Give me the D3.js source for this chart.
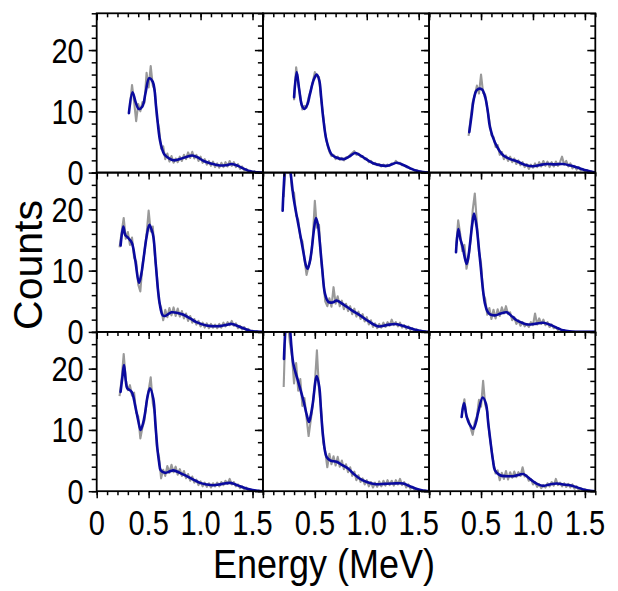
<!DOCTYPE html>
<html><head><meta charset="utf-8">
<script src="https://cdn.jsdelivr.net/npm/d3@7"></script>
<style>html,body{margin:0;padding:0;background:#fff;} svg{display:block;}</style>
</head><body>
<svg id="chart" width="618" height="591"></svg>
<script>
// Energy bins (MeV) shared by all measured spectra
const energyBins = [0.18,0.20,
 0.22,0.24,0.26,0.28,0.30, 0.32,0.34,0.36,0.38,0.40, 0.42,0.44,0.46,0.48,0.50,
 0.52,0.54,0.56,0.58,0.60, 0.62,0.64,0.66,0.68,0.70, 0.72,0.74,0.76,0.78,0.80,
 0.82,0.84,0.86,0.88,0.90, 0.92,0.94,0.96,0.98,1.00, 1.02,1.04,1.06,1.08,1.10,
 1.12,1.14,1.16,1.18,1.20, 1.22,1.24,1.26,1.28,1.30, 1.32,1.34,1.36,1.38,1.40,
 1.42,1.44,1.46,1.48,1.50, 1.52,1.54,1.56,1.58,1.60];

// Measured counts (grey), one array per panel, aligned with energyBins
const counts1 = [null,null,
 null,null,null,null,null, 10.8,14.3,11.6,8.4,11.2, 10.0,11.5,11.4,16.3,13.9,
 17.4,14.2,13.4,8.8,7.3, 3.9,4.3,2.2,3.1,1.8, 2.7,1.6,2.3,1.7,2.6,
 1.9,2.9,2.2,3.3,2.4, 3.4,2.3,2.9,1.9,2.6, 1.6,2.2,1.3,1.9,1.1,
 1.8,0.9,1.5,0.8,1.6, 0.9,1.7,1.0,1.9,1.1, 1.7,0.9,1.4,0.6,1.0,
 0.4,0.6,0.1,0.3,0.0, 0.2,0.0,0.1,0.0,0.0];
const counts2 = [null,null,
 null,null,null,null,11.8, 17.2,14.6,12.4,10.3,10.9, 10.6,12.3,13.4,14.8,16.4,
 15.7,15.6,12.0,9.4,6.3, 4.6,3.4,2.7,2.9,2.2, 2.6,2.1,2.4,2.0,2.5,
 2.5,2.9,3.2,3.5,2.9, 3.1,2.6,2.7,2.2,2.3, 1.7,1.9,1.4,1.6,1.2,
 1.4,1.0,1.3,1.0,1.3, 1.1,1.5,1.4,1.9,1.5, 1.6,1.2,1.2,0.9,0.9,
 0.6,0.6,0.3,0.4,0.1, 0.2,0.0,0.1,0.0,0.0];
const counts3 = [null,null,
 null,null,null,null,null, null,null,null,6.0,8.9, 11.5,12.6,14.2,12.9,16.0,
 13.0,12.7,10.4,8.5,6.1, 5.8,4.2,4.5,2.9,3.4, 2.2,2.8,1.9,2.6,1.7,
 2.3,1.4,2.0,1.2,1.7, 0.9,1.4,0.6,1.3,0.8, 1.5,0.9,1.7,1.0,1.9,
 1.1,1.8,0.9,1.7,1.0, 1.8,1.1,1.7,2.6,1.3, 1.9,1.0,1.5,0.7,1.1,
 0.5,0.9,0.4,0.6,0.2, 0.4,0.0,0.2,0.0,0.0];
const counts4 = [null,null,
 13.8,16.3,18.6,15.2,16.3, 14.2,15.4,12.1,11.5,7.7, 6.6,10.8,13.1,15.9,19.8,
 16.4,17.2,12.5,9.1,4.9, 4.0,1.9,3.6,2.4,3.9, 2.7,4.0,2.6,3.8,2.5,
 3.4,2.2,3.0,1.8,2.6, 1.5,2.1,1.2,1.8,0.9, 1.5,0.7,1.4,0.6,1.3,
 0.7,1.2,0.6,1.3,0.7, 1.5,0.9,1.6,1.1,1.8, 1.0,1.4,0.6,1.0,0.4,
 0.8,0.2,0.5,0.0,0.2, 0.0,0.1,0.0,0.0,0.0];
const counts5 = [null,22.0,
 27.5,29.0,27.0,23.2,22.7, 19.0,18.3,15.4,14.8,11.9, 9.3,10.7,12.0,15.2,21.4,
 17.0,17.5,11.8,8.6,5.0, 4.2,5.5,4.1,7.3,4.6, 5.8,4.2,5.1,3.7,4.6,
 3.4,4.2,2.9,3.8,2.5, 3.3,2.1,2.9,1.7,2.4, 1.2,1.9,0.8,1.4,0.6,
 1.3,0.7,1.5,0.8,1.6, 1.0,2.0,1.1,1.6,0.9, 1.5,0.7,1.1,0.5,0.9,
 0.3,0.6,0.1,0.4,0.0, 0.2,0.0,0.1,0.0,0.0];
const counts6 = [null,null,
 null,null,14.0,18.2,15.9, 13.2,14.2,10.3,12.0,15.1, 19.9,22.6,17.8,13.1,11.2,
 6.3,5.4,2.8,3.9,2.1, 3.6,2.2,3.7,2.6,4.0, 3.0,4.2,2.9,3.2,1.9,
 2.4,1.3,1.9,1.0,1.6, 0.9,1.3,0.8,1.6,1.1, 3.0,1.2,2.2,1.3,2.0,
 1.1,1.6,0.8,1.2,0.6, 0.8,0.3,0.5,0.1,0.3, 0.0,0.1,0.0,0.0,0.0,
 0.0,0.0,0.0,0.0,0.0, 0.0,0.0,0.0,0.0,0.0];
const counts7 = [null,null,
 15.5,18.3,22.4,18.2,16.5, 17.3,15.6,16.1,12.8,12.2, 8.6,10.4,11.6,14.5,16.5,
 18.6,14.4,12.6,7.0,5.6, 2.1,3.5,2.5,4.1,3.0, 4.3,3.1,4.0,2.7,3.6,
 2.5,3.3,2.1,2.8,1.7, 2.4,1.4,1.9,1.0,1.6, 0.8,1.4,0.7,1.3,0.6,
 1.3,0.8,1.4,0.8,1.5, 1.0,1.7,1.2,2.0,1.1, 1.5,0.8,1.1,0.5,0.8,
 0.3,0.6,0.1,0.3,0.0, 0.2,0.0,0.1,0.0,0.0];
const counts8 = [null,17.0,
 28.5,27.5,24.2,22.0,17.6, 20.9,16.4,18.3,13.9,15.2, 12.0,9.0,11.5,14.0,17.5,
 23.0,16.6,13.6,8.0,6.5, 3.9,6.1,4.4,5.7,4.2, 5.6,4.0,5.0,3.6,4.4,
 3.1,3.9,2.5,3.2,1.8, 2.6,1.5,2.1,1.1,1.8, 0.8,1.5,0.6,1.4,0.7,
 1.6,0.8,1.7,0.9,1.8, 1.0,1.7,0.9,1.8,1.1, 2.0,1.0,1.5,0.6,1.1,
 0.4,0.7,0.2,0.4,0.0, 0.2,0.0,0.1,0.0,0.0];
const counts9 = [null,null,
 null,null,null,null,null, 13.2,15.0,12.1,11.6,10.3, 9.2,11.3,12.2,14.9,13.8,
 18.0,14.1,13.0,9.4,6.9, 4.6,2.9,3.4,1.8,3.0, 2.0,3.3,1.9,3.1,2.2,
 3.2,2.3,3.1,2.5,3.9, 2.4,2.6,1.7,2.0,1.1, 1.5,0.7,1.1,0.5,1.0,
 0.6,1.3,0.8,1.5,0.9, 2.0,1.0,1.4,0.8,1.3, 0.7,1.2,0.6,1.1,0.4,
 0.8,0.2,0.5,0.0,0.3, 0.0,0.1,0.0,0.0,0.0];

// Fitted curves (blue): [energy MeV, counts]
const fit1 = [[0.31,9.7],[0.345,13.1],[0.375,11.5],[0.405,10.4],[0.44,10.8],[0.47,13.0],[0.505,15.4],[0.54,14.8],[0.575,10.2],[0.61,5.2],[0.65,3.0],[0.70,2.3],[0.75,2.0],[0.80,2.2],[0.87,2.6],[0.92,2.8],[0.97,2.5],[1.03,1.9],[1.10,1.5],[1.17,1.2],[1.24,1.2],[1.30,1.4],[1.36,1.1],[1.42,0.6],[1.48,0.2],[1.55,0.05],[1.60,0.0]];
const fit2 = [[0.30,12.3],[0.325,16.4],[0.35,13.5],[0.375,11.0],[0.40,10.4],[0.43,11.2],[0.453,12.8],[0.49,15.2],[0.518,16.0],[0.543,15.0],[0.56,12.5],[0.58,9.0],[0.613,5.2],[0.66,3.0],[0.70,2.5],[0.774,2.2],[0.83,2.6],[0.886,3.2],[0.93,2.9],[0.966,2.5],[1.02,1.9],[1.08,1.4],[1.19,1.1],[1.288,1.6],[1.33,1.4],[1.384,1.0],[1.43,0.6],[1.48,0.3],[1.54,0.08],[1.60,0.0]];
const fit3 = [[0.387,6.6],[0.41,9.5],[0.427,11.7],[0.46,13.5],[0.508,13.6],[0.54,12.3],[0.565,10.0],[0.586,7.4],[0.634,4.9],[0.68,3.5],[0.715,2.8],[0.78,2.2],[0.843,1.85],[0.92,1.3],[1.0,1.03],[1.07,1.25],[1.13,1.4],[1.21,1.35],[1.29,1.4],[1.36,1.15],[1.42,0.86],[1.52,0.33],[1.60,0.0]];
const fit4 = [[0.23,14.1],[0.256,17.2],[0.275,15.8],[0.294,15.5],[0.337,14.6],[0.37,11.8],[0.407,8.0],[0.43,9.5],[0.449,11.7],[0.48,15.5],[0.507,17.5],[0.53,16.6],[0.546,15.5],[0.57,10.8],[0.594,6.2],[0.615,3.8],[0.635,2.7],[0.66,2.6],[0.72,3.2],[0.78,3.1],[0.83,2.85],[0.90,2.2],[0.96,1.6],[1.057,1.06],[1.187,0.95],[1.25,1.15],[1.30,1.3],[1.38,0.8],[1.475,0.2],[1.54,0.05],[1.60,0.0]];
const fit5 = [[0.19,19.8],[0.20,23.5],[0.213,26.5],[0.235,28.0],[0.255,27.2],[0.268,25.8],[0.294,22.0],[0.325,19.0],[0.358,16.0],[0.39,13.0],[0.415,10.8],[0.43,10.3],[0.45,11.3],[0.469,13.3],[0.49,16.5],[0.511,18.6],[0.53,17.5],[0.543,15.5],[0.57,10.5],[0.598,6.2],[0.63,4.9],[0.67,4.8],[0.71,5.1],[0.774,4.5],[0.85,3.6],[0.935,2.7],[1.02,1.7],[1.11,0.9],[1.19,1.1],[1.27,1.3],[1.33,1.1],[1.384,0.8],[1.45,0.45],[1.51,0.2],[1.56,0.05],[1.60,0.0]];
const fit6 = [[0.259,13.0],[0.281,16.8],[0.30,15.2],[0.324,13.8],[0.345,12.0],[0.362,11.1],[0.38,12.5],[0.394,14.4],[0.415,17.5],[0.433,19.3],[0.458,17.1],[0.477,14.0],[0.497,10.6],[0.518,7.0],[0.538,4.6],[0.56,3.4],[0.586,2.85],[0.634,2.7],[0.69,3.0],[0.747,3.2],[0.80,2.5],[0.843,1.9],[0.90,1.45],[0.955,1.2],[1.03,1.35],[1.10,1.5],[1.18,1.06],[1.24,0.6],[1.29,0.25],[1.35,0.08],[1.42,0.02],[1.60,0.0]];
const fit7 = [[0.23,16.2],[0.25,19.0],[0.263,20.6],[0.28,18.0],[0.294,16.8],[0.337,16.2],[0.37,14.0],[0.40,11.5],[0.423,10.0],[0.445,11.0],[0.465,12.7],[0.49,15.5],[0.513,16.8],[0.545,15.1],[0.565,11.0],[0.583,7.2],[0.60,4.8],[0.616,3.4],[0.657,3.0],[0.70,3.2],[0.737,3.4],[0.80,3.0],[0.866,2.45],[0.93,1.9],[0.994,1.36],[1.06,1.1],[1.12,0.98],[1.20,1.15],[1.28,1.36],[1.33,1.15],[1.38,0.8],[1.44,0.45],[1.50,0.2],[1.55,0.06],[1.60,0.0]];
const fit8 = [[0.203,21.6],[0.21,24.5],[0.22,27.0],[0.24,28.2],[0.26,26.5],[0.275,23.5],[0.293,20.8],[0.341,17.8],[0.39,14.8],[0.42,12.6],[0.444,11.3],[0.46,12.3],[0.48,14.3],[0.518,18.8],[0.543,17.0],[0.56,13.0],[0.58,8.9],[0.613,5.6],[0.65,5.0],[0.709,4.8],[0.76,4.3],[0.82,3.7],[0.87,2.9],[0.93,2.07],[1.0,1.5],[1.09,1.14],[1.17,1.2],[1.25,1.25],[1.35,1.25],[1.41,0.85],[1.475,0.4],[1.54,0.1],[1.60,0.0]];
const fit9 = [[0.313,12.1],[0.336,14.4],[0.36,12.3],[0.39,10.9],[0.425,10.2],[0.45,11.2],[0.473,12.9],[0.516,15.3],[0.547,14.3],[0.57,11.0],[0.593,7.8],[0.615,5.0],[0.634,3.4],[0.682,2.6],[0.75,2.45],[0.81,2.45],[0.87,2.7],[0.906,2.8],[0.986,1.8],[1.04,1.2],[1.10,0.87],[1.16,1.1],[1.23,1.25],[1.29,1.1],[1.356,0.98],[1.42,0.65],[1.485,0.28],[1.55,0.05],[1.60,0.0]];

// Axis ticks and labels
const xDomain = [0, 1.6];
const yDomain = [0, 26];
const xMinorTicks = [0,0.1,0.2,0.3,0.4,0.5,0.6,0.7,0.8,0.9,1.0,1.1,1.2,1.3,1.4,1.5,1.6];
const xMajorTicks = [0,0.5,1.0,1.5];
const xTickLabels = ["0","0.5","1.0","1.5"];
const yMinorTicks = [0,2,4,6,8,10,12,14,16,18,20,22,24,26];
const yMajorTicks = [0,10,20];
const yTickLabels = ["0","10","20"];
const xTitle = "Energy (MeV)";
const yTitle = "Counts";

const countsList = [counts1,counts2,counts3,counts4,counts5,counts6,counts7,counts8,counts9];
const fitList = [fit1,fit2,fit3,fit4,fit5,fit6,fit7,fit8,fit9];

// ---- layout ----
const gridLeft = 96.7, gridTop = 13.3, pw = 166.2, ph = 159.3;
const FONT = "'Liberation Sans', Arial, sans-serif";
const SX = 0.83;       // horizontal squeeze of the condensed typeface
const TICK_FS = 35;
const grey = "#999999", blue = "#0a0a9e";

const x = d3.scaleLinear().domain(xDomain).range([0, pw]);
const y = d3.scaleLinear().domain(yDomain).range([ph, 0]);
const svg = d3.select("#chart");
const defs = svg.append("defs");

const greyLine = d3.line().defined(d => d[1] != null).x(d => x(d[0])).y(d => y(d[1]));
const fitLine = d3.line().x(d => x(d[0])).y(d => y(d[1])).curve(d3.curveCatmullRom.alpha(0.5));

function tickAxis(g, axisGen, values, size) {
  g.call(axisGen.tickValues(values).tickSize(size).tickFormat(""));
  g.select(".domain").remove();
  g.selectAll(".tick line").attr("stroke", "#000").attr("stroke-width", 1.5);
}

countsList.forEach((counts, i) => {
  const r = Math.floor(i / 3), c = i % 3;
  const g = svg.append("g").attr("transform", `translate(${gridLeft + c * pw},${gridTop + r * ph})`);
  const cid = "clip" + i;
  defs.append("clipPath").attr("id", cid).append("rect").attr("x", 0).attr("y", 0).attr("width", pw).attr("height", ph);

  const plot = g.append("g").attr("clip-path", `url(#${cid})`);
  const pts = energyBins.map((e, k) => [e, counts[k]]);
  plot.append("path").attr("d", greyLine(pts)).attr("fill", "none")
    .attr("stroke", grey).attr("stroke-width", 2.1).attr("stroke-linejoin", "round");
  plot.append("path").attr("d", fitLine(fitList[i])).attr("fill", "none")
    .attr("stroke", blue).attr("stroke-width", 2.6).attr("stroke-linejoin", "round").attr("stroke-linecap", "round");

  // top ticks (inward)
  tickAxis(g.append("g"), d3.axisBottom(x), xMinorTicks, 4);
  tickAxis(g.append("g"), d3.axisBottom(x), xMajorTicks, 7);
  // right ticks (inward)
  tickAxis(g.append("g").attr("transform", `translate(${pw},0)`), d3.axisLeft(y), yMinorTicks, 5);
  tickAxis(g.append("g").attr("transform", `translate(${pw},0)`), d3.axisLeft(y), yMajorTicks, 8);

  if (c === 0) {
    tickAxis(g.append("g"), d3.axisLeft(y), yMinorTicks, 5);
    tickAxis(g.append("g"), d3.axisLeft(y), yMajorTicks, 8);
    yMajorTicks.forEach((v, k) => {
      g.append("text").attr("transform", `translate(-13,${y(v) + 12.5}) scale(${SX},1)`)
        .attr("text-anchor", "end").attr("font-family", FONT).attr("font-size", TICK_FS)
        .attr("fill", "#000").text(yTickLabels[k]);
    });
  }
  if (r === 2) {
    tickAxis(g.append("g").attr("transform", `translate(0,${ph})`), d3.axisBottom(x), xMinorTicks, 4);
    tickAxis(g.append("g").attr("transform", `translate(0,${ph})`), d3.axisBottom(x), xMajorTicks, 7);
    xMajorTicks.forEach((v, k) => {
      if (c > 0 && v === 0) return;
      g.append("text").attr("transform", `translate(${x(v)},${ph + 44}) scale(${SX},1)`)
        .attr("text-anchor", "middle").attr("font-family", FONT).attr("font-size", TICK_FS)
        .attr("fill", "#000").text(xTickLabels[k]);
    });
  }
  // frame
  g.append("rect").attr("x", 0).attr("y", 0).attr("width", pw).attr("height", ph)
    .attr("fill", "none").attr("stroke", "#000").attr("stroke-width", 1.8);
});

// axis titles
svg.append("text").attr("x", 324).attr("y", 578).attr("text-anchor", "middle")
  .attr("font-family", FONT).attr("font-size", 40)
  .attr("textLength", 222).attr("lengthAdjust", "spacingAndGlyphs")
  .attr("fill", "#000").text(xTitle);
svg.append("text").attr("transform", "translate(42,265) rotate(-90)").attr("text-anchor", "middle")
  .attr("font-family", FONT).attr("font-size", 40)
  .attr("textLength", 130).attr("lengthAdjust", "spacingAndGlyphs")
  .attr("fill", "#000").text(yTitle);
</script>
</body></html>
